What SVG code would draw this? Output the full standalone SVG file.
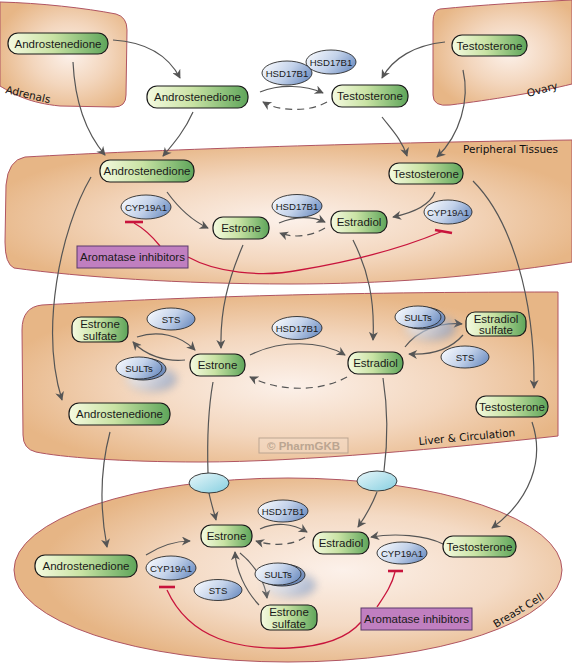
<svg xmlns="http://www.w3.org/2000/svg" width="572" height="665" viewBox="0 0 572 665">
<defs>
<style>
.region{stroke:#b05562;stroke-width:1}
.rlabel{font-family:"DejaVu Sans",sans-serif;font-size:10.5px;fill:#111}
.node rect{fill:url(#gNode);stroke:#1a1a1a;stroke-width:1.2}
.node text,.box text{font-family:"Liberation Sans",Arial,sans-serif;font-size:11.5px;fill:#1a1a1a;text-anchor:middle}
.enz ellipse{fill:url(#gEnz);stroke:#2a2a2a;stroke-width:0.9}
.enz ellipse.back{fill:url(#gEnzB)}
.enz text{font-family:"Liberation Sans",Arial,sans-serif;font-size:9.6px;fill:#1a1a1a;text-anchor:middle}
.trans ellipse{fill:url(#gTrans);stroke:#2a2a2a;stroke-width:0.9}
.box rect{fill:#c07fc0;stroke:#5a3a6a;stroke-width:1}
.arr{fill:none;stroke:#555;stroke-width:1.2;marker-end:url(#ah)}
.dash{stroke-dasharray:7,5}
.inh{fill:none;stroke:#c8143c;stroke-width:1.3}
.bar{stroke:#c8143c;stroke-width:2.6;fill:none}
</style>
<linearGradient id="gNode" x1="0" y1="0" x2="1" y2="0">
<stop offset="0" stop-color="#f5fae0"/>
<stop offset="0.45" stop-color="#c9e3a4"/>
<stop offset="1" stop-color="#5ea55a"/>
</linearGradient>
<linearGradient id="gEnz" x1="0" y1="0.3" x2="1" y2="0.7">
<stop offset="0" stop-color="#f4f7fc"/>
<stop offset="0.5" stop-color="#c3d2ea"/>
<stop offset="1" stop-color="#6f8fc2"/>
</linearGradient>
<linearGradient id="gEnzB" x1="0" y1="0" x2="1" y2="1">
<stop offset="0" stop-color="#b8c8e2"/>
<stop offset="1" stop-color="#5d7cb0"/>
</linearGradient>
<linearGradient id="gTrans" x1="0" y1="0" x2="1" y2="1">
<stop offset="0" stop-color="#e8f7fa"/>
<stop offset="1" stop-color="#86cfe0"/>
</linearGradient>
<radialGradient id="gTis" cx="0.5" cy="0.55" r="0.55">
<stop offset="0" stop-color="#fcf1ea"/>
<stop offset="0.55" stop-color="#f3d6bd"/>
<stop offset="1" stop-color="#e7b686"/>
</radialGradient>
<radialGradient id="gSmall" cx="0.55" cy="0.5" r="0.6">
<stop offset="0" stop-color="#fcf1ea"/>
<stop offset="0.5" stop-color="#f3d6bd"/>
<stop offset="1" stop-color="#e7b686"/>
</radialGradient>
<radialGradient id="gBreast" cx="0.6" cy="0.5" r="0.55">
<stop offset="0" stop-color="#fcf1ea"/>
<stop offset="0.55" stop-color="#f4dac4"/>
<stop offset="1" stop-color="#e6b585"/>
</radialGradient>
<filter id="blur" x="-50%" y="-50%" width="200%" height="200%">
<feGaussianBlur stdDeviation="4.5"/>
</filter>
<marker id="ah" viewBox="0 0 10 10" refX="9" refY="5" markerWidth="10" markerHeight="9" markerUnits="userSpaceOnUse" orient="auto">
<path d="M0,0 L10,5 L0,10 L3,5 Z" fill="#555"/>
</marker>
</defs>
<rect width="572" height="665" fill="#fff"/>

<g id="regions">
<path id="adrenals" class="region" fill="url(#gSmall)" d="M0,2 C40,3 85,8 116,14 Q127,17 127,30 L126,95 Q126,107 114,107 L60,106 C30,103 15,95 0,86 Z"/>
<text class="rlabel" transform="translate(5,93) rotate(13)">Adrenals</text>
<path id="ovary" class="region" fill="url(#gSmall)" d="M440,9 C480,5 530,2 572,0 L572,84 C540,92 490,100 450,105 Q433,107 433,95 L433,22 Q433,10 440,9 Z"/>
<text class="rlabel" transform="translate(528,97) rotate(-15)">Ovary</text>
<path id="peripheral" class="region" fill="url(#gTis)" d="M25,157 C150,150 350,143 572,140 L572,262 C470,278 380,284 290,284 C180,284 80,277 14,268 Q5,264 5,242 L6,185 Q8,160 25,157 Z"/>
<text class="rlabel" x="463" y="153">Peripheral Tissues</text>
<path id="liver" class="region" fill="url(#gTis)" d="M42,305 C150,299 300,292 558,292 L558,436 C450,448 300,462 200,462 C120,462 60,457 36,452 Q23,449 23,435 L22,330 Q22,307 42,305 Z"/>
<text class="rlabel" transform="translate(419,445) rotate(-5.3)">Liver &amp; Circulation</text>
<ellipse id="breast" class="region" fill="url(#gBreast)" cx="288" cy="570" rx="274" ry="92"/>
<text class="rlabel" transform="translate(496,628) rotate(-31)">Breast Cell</text>
<g id="watermark">
<rect x="259" y="438" width="89" height="15" fill="#f3dcc8" fill-opacity="0.5" stroke="#bba591" stroke-width="1"/>
<text x="303.5" y="450" font-family="Liberation Sans,Arial,sans-serif" font-size="11.5" font-weight="bold" fill="#bba591" text-anchor="middle">© PharmGKB</text>
</g>
</g>

<g id="connectors">
<path class="arr" d="M113,40 C145,42 168,55 180,78"/>
<path class="arr" d="M73,62 C75,105 88,135 105,155"/>
<path class="arr" d="M193,112 C185,130 175,142 163,156"/>
<path class="arr" d="M260,92 C280,84 305,85 323,93"/>
<path class="arr dash" d="M327,102 C310,112 280,112 263,102"/>
<path class="arr" d="M445,42 C415,45 393,58 382,78"/>
<path class="arr" d="M382,117 C392,130 402,140 407,156"/>
<path class="arr" d="M463,70 C470,100 460,135 437,157"/>
<path class="arr" d="M167,192 C180,210 195,222 208,228"/>
<path class="arr" d="M279,223 C295,216 312,216 325,222"/>
<path class="arr dash" d="M325,228 C310,237 293,238 280,233"/>
<path class="arr" d="M435,192 C430,205 412,213 393,217"/>
<path class="arr" d="M473,181 C512,220 535,300 534,388"/>
<path class="arr" d="M91,177 C60,230 40,330 62,400"/>
<path class="arr" d="M243,245 C228,280 220,310 221,348"/>
<path class="arr" d="M353,240 C368,270 375,300 373,340"/>
<path class="arr" d="M137,337 C158,330 180,335 195,350"/>
<path class="arr" d="M185,360 C165,362 145,355 133,342"/>
<path class="arr" d="M250,355 C280,340 320,340 345,355"/>
<path class="arr dash" d="M347,377 C320,392 280,392 250,377"/>
<path class="arr" d="M405,347 C418,330 440,322 462,324"/>
<path class="arr" d="M463,335 C450,350 430,355 409,354"/>
<path class="arr" style="marker-end:none" d="M213,382 C208,410 207,440 208,473"/>
<path class="arr" style="marker-end:none" d="M383,378 C388,410 388,440 384,471"/>
<path class="arr" d="M532,422 C545,460 530,500 492,528"/>
<path class="arr" d="M110,432 C100,470 100,510 107,547"/>
<path class="arr" d="M209,493 C211,503 214,512 216,520"/>
<path class="arr" d="M377,492 C372,505 365,517 358,527"/>
<path class="arr" d="M146,555 C160,546 175,541 190,541"/>
<path class="arr" d="M260,529 C275,522 292,523 307,532"/>
<path class="arr dash" d="M305,537 C292,546 272,546 256,541"/>
<path class="arr" d="M443,544 C425,535 395,533 371,537"/>
<path class="arr" d="M240,553 C255,565 265,582 267,598"/>
<path class="arr" d="M259,605 C245,590 236,570 235,552"/>
<path class="inh" d="M160,246 C152,236 143,228 134,223"/>
<path class="bar" d="M125,222 L143,222"/>
<path class="inh" d="M188,257 C215,272 260,278 300,270 C360,260 410,245 443,231"/>
<path class="bar" d="M435,230 L452,233"/>
<path class="inh" d="M167,590 C190,640 240,650 290,648 C330,646 350,635 361,622"/>
<path class="bar" d="M159,587 L175,587"/>
<path class="inh" d="M377,607 C385,595 392,585 395,572"/>
<path class="bar" d="M388,571 L403,571"/>
</g>

<g id="n_andro_adrenal" class="node"><rect x="8" y="33" width="100" height="21" rx="10"/><text x="58" y="47.5">Androstenedione</text></g>
<g id="n_andro_top" class="node"><rect x="147" y="86" width="101" height="22" rx="10"/><text x="197.5" y="101">Androstenedione</text></g>
<g id="n_testo_ovary" class="node"><rect x="452" y="35" width="75" height="21" rx="10"/><text x="489.5" y="49.5">Testosterone</text></g>
<g id="n_testo_top" class="node"><rect x="332" y="85" width="76" height="22" rx="10"/><text x="370" y="100">Testosterone</text></g>
<g id="e_hsd_top2" class="enz"><ellipse cx="331" cy="62" rx="25" ry="12"/><text x="331" y="65.5">HSD17B1</text></g>
<g id="e_hsd_top1" class="enz"><ellipse cx="287" cy="73" rx="25" ry="12"/><text x="287" y="76.5">HSD17B1</text></g>

<g id="n_andro_per" class="node"><rect x="100" y="160" width="94" height="22" rx="10"/><text x="147" y="175">Androstenedione</text></g>
<g id="e_cyp_per1" class="enz"><ellipse cx="146" cy="207" rx="25" ry="12"/><text x="146" y="210.5">CYP19A1</text></g>
<g id="n_estrone_per" class="node"><rect x="213" y="217" width="56" height="22" rx="10"/><text x="241" y="232">Estrone</text></g>
<g id="e_hsd_per" class="enz"><ellipse cx="297" cy="206" rx="25" ry="11.5"/><text x="297" y="209.5">HSD17B1</text></g>
<g id="n_estradiol_per" class="node"><rect x="331" y="211" width="56" height="22" rx="10"/><text x="359" y="226">Estradiol</text></g>
<g id="n_testo_per" class="node"><rect x="389" y="163" width="74" height="21" rx="10"/><text x="426" y="177.5">Testosterone</text></g>
<g id="e_cyp_per2" class="enz"><ellipse cx="448" cy="212" rx="24" ry="12"/><text x="448" y="215.5">CYP19A1</text></g>
<g id="b_ai_per" class="box"><rect x="77" y="246" width="111" height="22"/><text x="132.5" y="261">Aromatase inhibitors</text></g>

<g id="n_e1s_liver" class="node"><rect x="72" y="317" width="56" height="25" rx="9"/><text x="100" y="328">Estrone</text><text x="100" y="339.5">sulfate</text></g>
<g id="e_sts_liver1" class="enz"><ellipse cx="171" cy="319" rx="24" ry="11"/><text x="171" y="322.5">STS</text></g>
<g id="e_sults_liver1" class="enz"><ellipse cx="151" cy="379" rx="25" ry="12" fill="#222" stroke="none" opacity="0.65" filter="url(#blur)"/><ellipse class="back" cx="143" cy="369" rx="23" ry="11"/><ellipse cx="139" cy="368" rx="23" ry="11"/><text x="139" y="371.5">SULTs</text></g>
<g id="n_estrone_liver" class="node"><rect x="190" y="354" width="55" height="22" rx="10"/><text x="217.5" y="369">Estrone</text></g>
<g id="e_hsd_liver" class="enz"><ellipse cx="297" cy="328" rx="25" ry="11.5"/><text x="297" y="331.5">HSD17B1</text></g>
<g id="n_estradiol_liver" class="node"><rect x="348" y="352" width="55" height="22" rx="10"/><text x="375.5" y="367">Estradiol</text></g>
<g id="e_sults_liver2" class="enz"><ellipse cx="430" cy="328" rx="25" ry="12" fill="#222" stroke="none" opacity="0.65" filter="url(#blur)"/><ellipse class="back" cx="422" cy="318" rx="23" ry="11"/><ellipse cx="418" cy="317" rx="23" ry="11"/><text x="418" y="320.5">SULTs</text></g>
<g id="n_e2s_liver" class="node"><rect x="466" y="312" width="60" height="24" rx="9"/><text x="496" y="322.5">Estradiol</text><text x="496" y="334">sulfate</text></g>
<g id="e_sts_liver2" class="enz"><ellipse cx="465" cy="357" rx="24" ry="11"/><text x="465" y="360.5">STS</text></g>
<g id="n_testo_liver" class="node"><rect x="476" y="396" width="72" height="21" rx="10"/><text x="512" y="410.5">Testosterone</text></g>
<g id="n_andro_liver" class="node"><rect x="69" y="403" width="101" height="22" rx="10"/><text x="119.5" y="418">Androstenedione</text></g>

<g id="t_left" class="trans"><ellipse cx="209" cy="483" rx="20" ry="10"/></g>
<g id="t_right" class="trans"><ellipse cx="377" cy="481" rx="20" ry="10"/></g>

<g id="n_andro_breast" class="node"><rect x="35" y="555" width="102" height="22" rx="10"/><text x="86" y="570">Androstenedione</text></g>
<g id="e_cyp_breast1" class="enz"><ellipse cx="171" cy="568" rx="25" ry="12"/><text x="171" y="571.5">CYP19A1</text></g>
<g id="n_estrone_breast" class="node"><rect x="201" y="525" width="51" height="22" rx="10"/><text x="226.5" y="540">Estrone</text></g>
<g id="e_hsd_breast" class="enz"><ellipse cx="283" cy="511" rx="25" ry="11"/><text x="283" y="514.5">HSD17B1</text></g>
<g id="n_estradiol_breast" class="node"><rect x="313" y="532" width="56" height="22" rx="10"/><text x="341" y="547">Estradiol</text></g>
<g id="n_testo_breast" class="node"><rect x="443" y="536" width="73" height="21" rx="10"/><text x="479.5" y="550.5">Testosterone</text></g>
<g id="e_cyp_breast2" class="enz"><ellipse cx="402" cy="553" rx="25" ry="11"/><text x="402" y="556.5">CYP19A1</text></g>
<g id="e_sults_breast" class="enz"><ellipse cx="290" cy="585" rx="25" ry="12" fill="#222" stroke="none" opacity="0.65" filter="url(#blur)"/><ellipse class="back" cx="282" cy="575" rx="23" ry="11"/><ellipse cx="278" cy="574" rx="23" ry="11"/><text x="278" y="577.5">SULTs</text></g>
<g id="e_sts_breast" class="enz"><ellipse cx="218" cy="590" rx="24" ry="10.5"/><text x="218" y="593.5">STS</text></g>
<g id="n_e1s_breast" class="node"><rect x="261" y="605" width="56" height="25" rx="9"/><text x="289" y="616">Estrone</text><text x="289" y="627.5">sulfate</text></g>
<g id="b_ai_breast" class="box"><rect x="361" y="608" width="111" height="22"/><text x="416.5" y="623">Aromatase inhibitors</text></g>
</svg>
